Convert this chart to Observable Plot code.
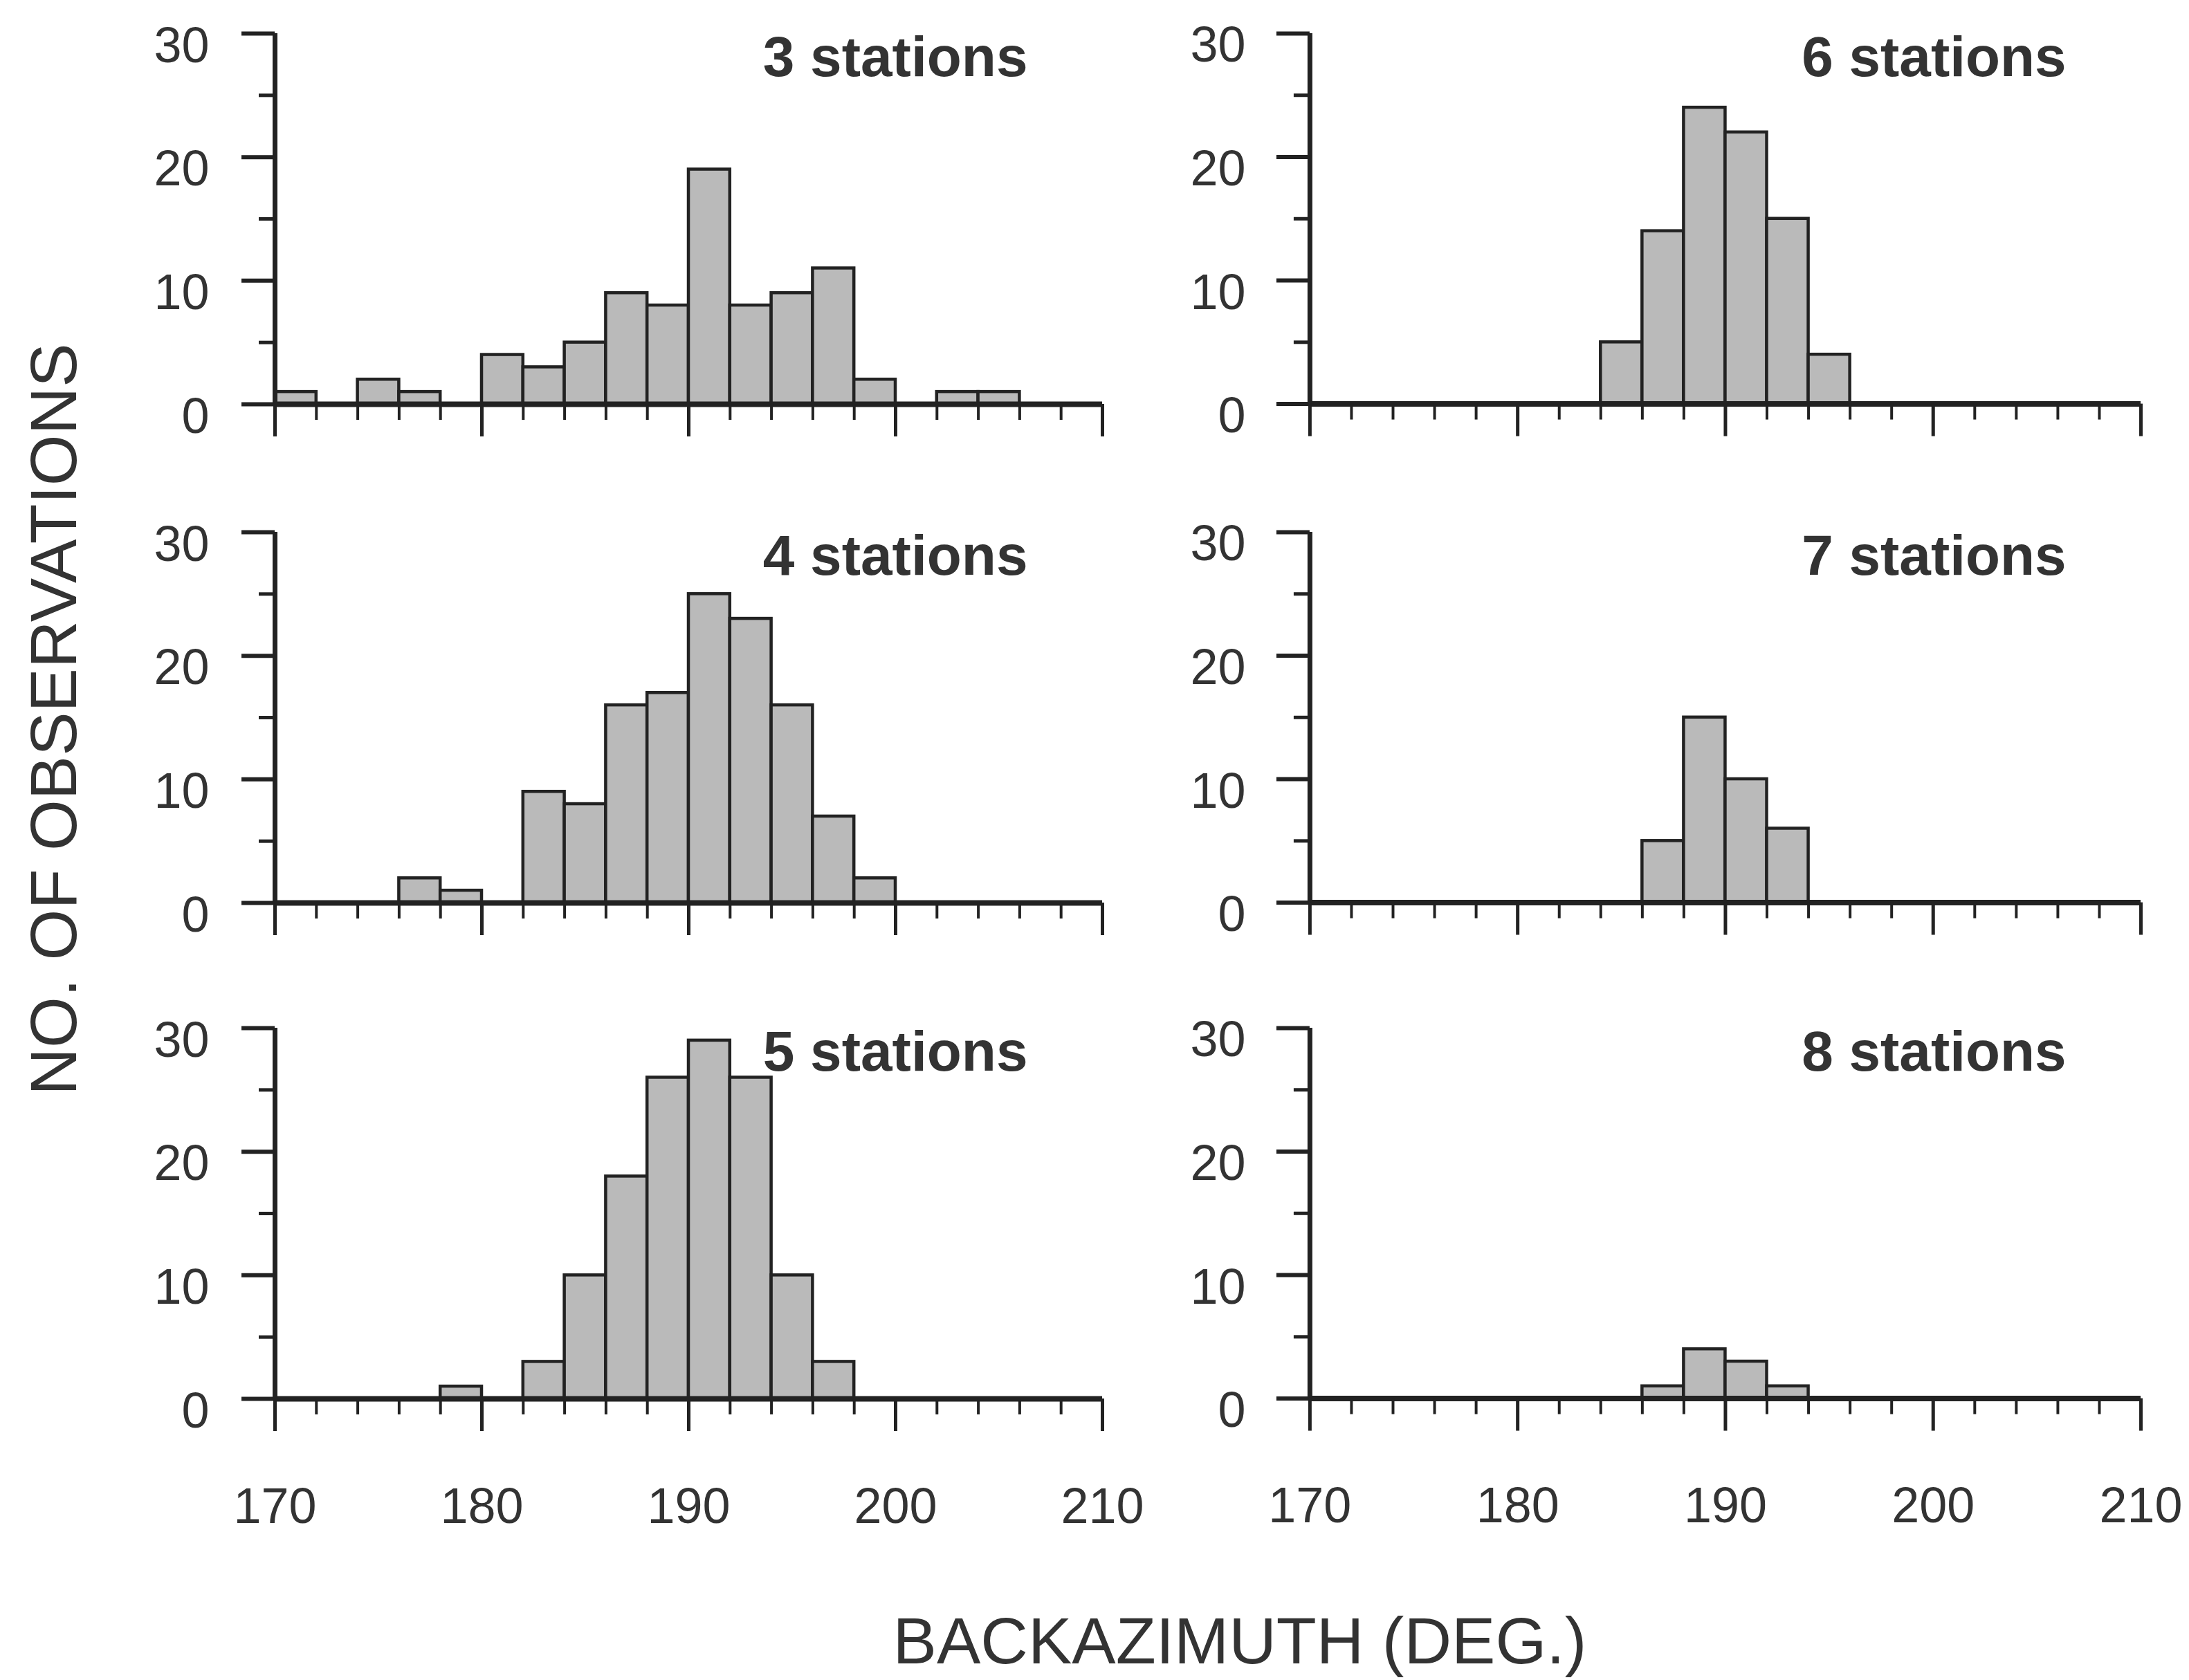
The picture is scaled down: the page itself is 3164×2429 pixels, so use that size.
<!DOCTYPE html>
<html>
<head>
<meta charset="utf-8">
<script src="https://cdn.jsdelivr.net/npm/d3@7"></script>
<script src="https://cdn.jsdelivr.net/npm/@observablehq/plot@0.6"></script>
<style>
  body { margin: 0; background: #fff; }
  #wrap { position: relative; width: 3164px; height: 2429px; background: #fff; overflow: hidden;
          font-family: "Liberation Sans", Arial, Helvetica, sans-serif; color: #333; }
  .panel { position: absolute; }
  .ytitle { position: absolute; left: 77px; top: 1040px; transform: translate(-50%, -50%) rotate(-90deg);
            font-size: 95px; line-height: 1; white-space: nowrap; color: #333; }
  .xtitle { position: absolute; left: 1792px; top: 2372px; transform: translate(-50%, -50%);
            font-size: 95px; line-height: 1; white-space: nowrap; color: #333; }
</style>
</head>
<body>
<div id="wrap">
  <div class="ytitle">NO. OF OBSERVATIONS</div>
  <div class="xtitle">BACKAZIMUTH (DEG.)</div>
</div>
<script>
// Bin edges (degrees) — 2° bins from 170 to 210
const binStart = [170,172,174,176,178,180,182,184,186,188,190,192,194,196,198,200,202,204,206,208];
const binWidth = 2;

// Counts per bin for each number of stations
const stations3 = [1,0,2,1,0,4,3,5,9,8,19,8,9,11,2,0,1,1,0,0];
const stations4 = [0,0,0,2,1,0,9,8,16,17,25,23,16,7,2,0,0,0,0,0];
const stations5 = [0,0,0,0,1,0,3,10,18,26,29,26,10,3,0,0,0,0,0,0];
const stations6 = [0,0,0,0,0,0,0,5,14,24,22,15,4,0,0,0,0,0,0,0];
const stations7 = [0,0,0,0,0,0,0,0,5,15,10,6,0,0,0,0,0,0,0,0];
const stations8 = [0,0,0,0,0,0,0,0,1,4,3,1,0,0,0,0,0,0,0,0];

const panelLabels = ["3 stations","4 stations","5 stations","6 stations","7 stations","8 stations"];
const xMajorTicks = [170,180,190,200,210];
const xMinorTicks = [172,174,176,178,182,184,186,188,192,194,196,198,202,204,206,208];
const yMajorTicks = [0,10,20,30];
const yMinorTicks = [5,15,25];

const panels = [
  {label: panelLabels[0], counts: stations3, col: 0, row: 0},
  {label: panelLabels[1], counts: stations4, col: 0, row: 1},
  {label: panelLabels[2], counts: stations5, col: 0, row: 2},
  {label: panelLabels[3], counts: stations6, col: 1, row: 0},
  {label: panelLabels[4], counts: stations7, col: 1, row: 1},
  {label: panelLabels[5], counts: stations8, col: 1, row: 2}
];

const cols = [
  {left: 200, ml: 197, iw: 1196, tp: 47},
  {left: 1700, ml: 193, iw: 1202, tp: 45}
];
const rows = [
  {top: 0, mb: 60},
  {top: 721, mb: 60},
  {top: 1438, mb: 210}
];
const innerH = 536, mt = 48, mr = 70;
const ink = "#222";
const txt = "#333";

const wrap = document.getElementById("wrap");

for (const p of panels) {
  const c = cols[p.col], r = rows[p.row];
  const showX = p.row === 2;
  const data = binStart.map((b, i) => ({x1: b, x2: b + binWidth, n: p.counts[i]}));
  const chart = Plot.plot({
    width: c.ml + c.iw + mr,
    height: mt + innerH + r.mb,
    marginLeft: c.ml, marginRight: mr, marginTop: mt, marginBottom: r.mb,
    style: {fontFamily: '"Liberation Sans", Arial, Helvetica, sans-serif', fontSize: "72px",
            color: txt, background: "transparent", overflow: "visible"},
    x: {domain: [170, 210], label: null},
    y: {domain: [0, 30], label: null},
    marks: [
      Plot.rectY(data, {x1: "x1", x2: "x2", y: "n", fill: "#bababa", stroke: ink, strokeWidth: 4.5}),
      Plot.ruleY([0], {x1: 170, x2: 210, stroke: ink, strokeWidth: 8}),
      Plot.ruleX([170], {y1: 0, y2: 30, stroke: ink, strokeWidth: 7}),
      // major y ticks (no labels)
      Plot.axisY({ticks: yMajorTicks, tickSize: 48, stroke: ink, strokeWidth: 6, fill: "none", label: null}),
      // y tick labels, set slightly below their ticks as in the original
      Plot.axisY({ticks: yMajorTicks, tickSize: 0, tickPadding: 48 + c.tp, fill: txt, dy: 18, label: null}),
      Plot.axisY({ticks: yMinorTicks, tickSize: 23, stroke: ink, strokeWidth: 5, fill: "none", label: null}),
      Plot.axisX({ticks: xMajorTicks, tickSize: 47, tickPadding: 81, stroke: ink, strokeWidth: 5,
                  fill: showX ? txt : "none", label: null}),
      Plot.axisX({ticks: xMinorTicks, tickSize: 23, stroke: ink, strokeWidth: 4, fill: "none", label: null}),
      Plot.text([p.label], {text: d => d, frameAnchor: "top-right", dx: -108, dy: 3, lineAnchor: "top",
                            textAnchor: "end", fontSize: 82, fontWeight: "bold", fill: txt})
    ]
  });
  const div = document.createElement("div");
  div.className = "panel";
  div.style.left = c.left + "px";
  div.style.top = r.top + "px";
  div.appendChild(chart);
  wrap.appendChild(div);
}
</script>
</body>
</html>
